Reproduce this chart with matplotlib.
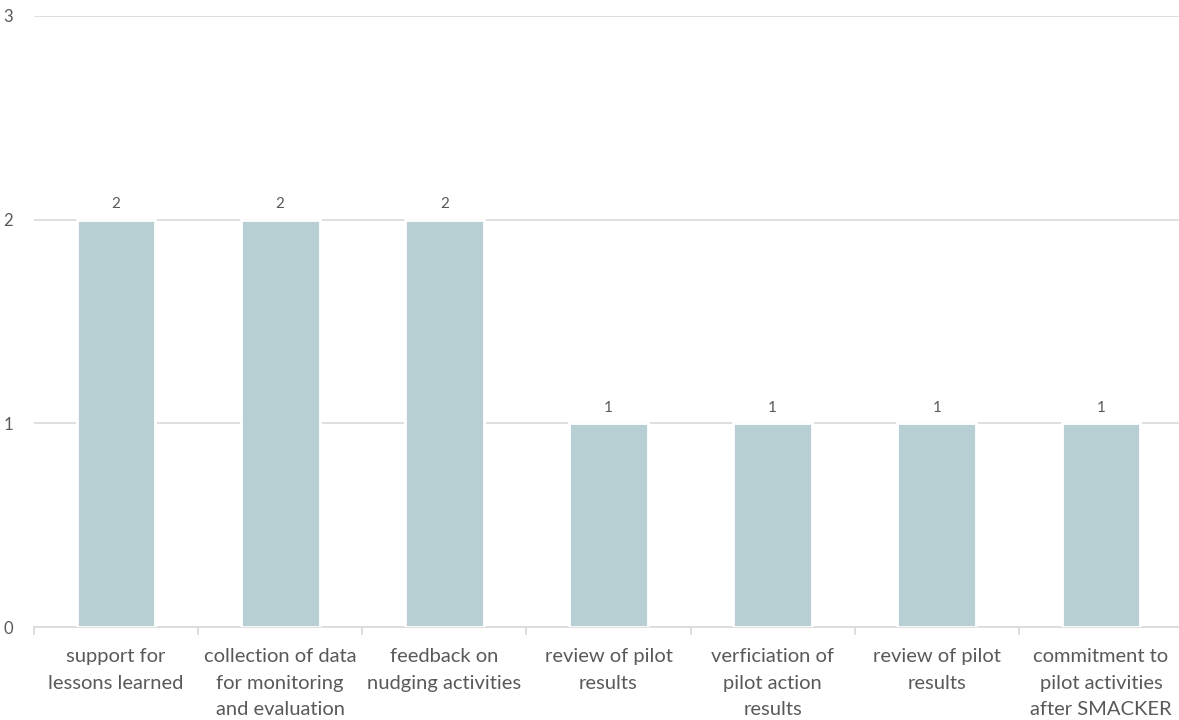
import matplotlib.pyplot as plt
import numpy as np

plt.rcParams['font.family'] = ['Lato', 'DejaVu Sans']

# Activity categories and counts
categories = [
    "support for\nlessons learned",
    "collection of data\nfor monitoring\nand evaluation",
    "feedback on\nnudging activities",
    "review of pilot\nresults",
    "verficiation of\npilot action\nresults",
    "review of pilot\nresults",
    "commitment to\npilot activities\nafter SMACKER",
]
counts = [2, 2, 2, 1, 1, 1, 1]
y_ticks = [0, 1, 2, 3]

text_col = '#595959'
grid_col = '#D9D9D9'

fig = plt.figure(figsize=(11.79, 7.2), dpi=100)
ax = fig.add_axes([34 / 1179, 93 / 720, 1149 / 1179, 611 / 720])

x = np.arange(len(categories))
bars = ax.bar(x, counts, width=0.48, color='#B7CFD3', edgecolor='white',
              linewidth=2, zorder=3)

for b, v in zip(bars, counts):
    ax.annotate(str(v), (b.get_x() + b.get_width() / 2, v),
                xytext=(0, 6), textcoords='offset points',
                ha='center', va='bottom', fontsize=11, color=text_col)

ax.set_xlim(-0.5, len(categories) - 0.5)
ax.set_ylim(0, 3)
ax.set_yticks(y_ticks)
ax.set_yticklabels([str(t) for t in y_ticks])
ax.yaxis.grid(True, color=grid_col, linewidth=1.2, zorder=0)
ax.set_axisbelow(True)

ax.set_xticks(x)
ax.set_xticklabels(categories, fontsize=14.5, color=text_col, linespacing=1.7)
ax.set_xticks(np.arange(-0.5, len(categories)), minor=True)
ax.tick_params(axis='x', which='major', length=0, pad=15)
ax.tick_params(axis='x', which='minor', length=6, color=grid_col, width=1.2)
ax.tick_params(axis='y', length=0, pad=15, labelsize=12, labelcolor=text_col)

for side in ['top', 'right', 'left']:
    ax.spines[side].set_visible(False)
ax.spines['bottom'].set_color(grid_col)
ax.spines['bottom'].set_linewidth(1.2)

fig.savefig('out.png', dpi=100)
